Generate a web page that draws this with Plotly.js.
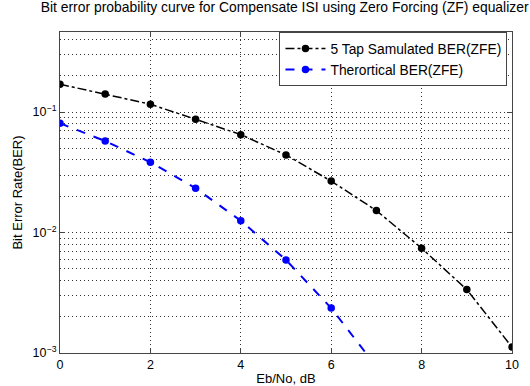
<!DOCTYPE html>
<html><head><meta charset="utf-8">
<script src="https://cdn.plot.ly/plotly-3.0.1.min.js"></script>
<style>html,body{margin:0;padding:0;background:#fff}#chart{width:530px;height:386px}</style>
</head><body><div id="chart"></div>
<script>
const ebno = [0,1,2,3,4,5,6,7,8,9,10];
const simBER = [0.17,0.141,0.116,0.087,0.0649,0.044,0.0267,0.0152,0.00741,0.00336,0.00112];
const ebnoTheory = [0,1,2,3,4,5,6,7];
const theoryBER = [0.0806,0.0574,0.0383,0.0233,0.01253,0.00592,0.00236,0.00077];
const simName = '5 Tap Samulated BER(ZFE)';
const theoryName = 'Therortical BER(ZFE)';
const yTickVals = [0.001,0.01,0.1];
const yTickText = ['10<sup>−3</sup>','10<sup>−2</sup>','10<sup>−1</sup>'];
const xTickVals = [0,2,4,6,8,10];

const font = {family:'Liberation Sans, Arial, sans-serif', size:13, color:'#000'};
const gridStyle = {showgrid:true, gridcolor:'#333', griddash:'1px,3px', gridwidth:1};
const traces = [
  {x:ebno, y:simBER, name:simName, mode:'lines+markers',
   line:{color:'#000', width:1.5, dash:'dashdot'}, marker:{color:'#000', size:7.5, symbol:'circle'}},
  {x:ebnoTheory, y:theoryBER, name:theoryName, mode:'lines+markers',
   line:{color:'#0000ff', width:2, dash:'dash'}, marker:{color:'#0000ff', size:7.5, symbol:'circle'}}
];
const layout = {
  width:530, height:386, paper_bgcolor:'#fff', plot_bgcolor:'#fff', font:font,
  margin:{l:60, r:18, t:32, b:33},
  title:{text:'Bit error probability curve for Compensate ISI using Zero Forcing (ZF) equalizer',
         font:{family:'Liberation Sans', size:13.9, color:'#000'}, x:0.537, xanchor:'center', y:0.994, yanchor:'top'},
  xaxis:Object.assign({range:[0,10], tickvals:xTickVals, ticks:'inside', ticklen:5, tickcolor:'#444',
         showline:true, linecolor:'#444', linewidth:1, mirror:'ticks', zeroline:false,
         title:{text:'Eb/No, dB', standoff:4, font:{size:13}}, tickfont:{size:12.5}}, gridStyle),
  yaxis:Object.assign({type:'log', range:[-3,-0.336], tickvals:yTickVals, ticktext:yTickText,
         ticks:'inside', ticklen:5, tickcolor:'#444',
         showline:true, linecolor:'#444', linewidth:1, mirror:'ticks', zeroline:false,
         minor:Object.assign({dtick:'D1', ticks:''}, gridStyle),
         title:{text:'Bit Error Rate(BER)', standoff:7, font:{size:13}}, tickfont:{size:12.5}}, gridStyle),
  legend:{x:0.99, xanchor:'right', y:1, yanchor:'top', bgcolor:'#fff', bordercolor:'#444', borderwidth:1,
          font:{family:'Liberation Sans', size:13.8}, tracegroupgap:0, itemwidth:40},
  showlegend:true
};
Plotly.newPlot('chart', traces, layout, {staticPlot:true, displayModeBar:false});
</script></body></html>
